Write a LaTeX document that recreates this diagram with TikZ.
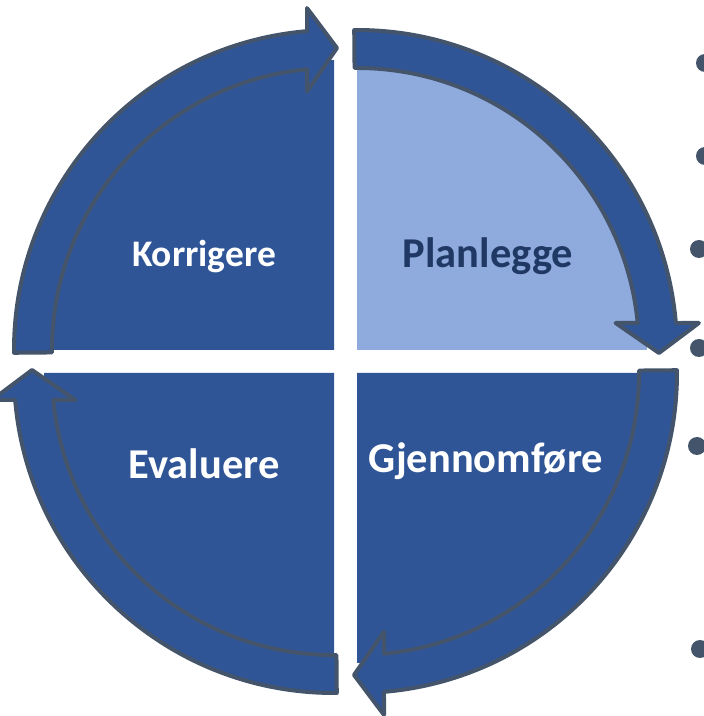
\documentclass[tikz,border=0pt]{standalone}
\usepackage{fontspec}
\setmainfont{Carlito}
\definecolor{darkfill}{HTML}{2F5597}
\definecolor{lightfill}{HTML}{8FAADC}
\definecolor{edgegray}{HTML}{44546A}
\definecolor{navytext}{HTML}{1F3864}
\tikzset{
  arrowstyle/.style={fill=darkfill, draw=edgegray, line width=4pt, line join=round},
  lbl/.style={font=\bfseries\fontsize{42.5}{46}\selectfont, anchor=base, inner sep=0pt},
  smalllbl/.style={font=\bfseries\fontsize{37.5}{42}\selectfont, anchor=base, inner sep=0pt},
  bulletdot/.style={circle, fill=edgegray, minimum size=18pt, inner sep=0pt},
  cyclearrow/.pic={
    \path[arrowstyle] (90.5:320) arc[start angle=90.5, end angle=4.84, radius=320]
      -- (341.9,27) -- (302,-3) -- (258.6,27) -- (280.7,27)
      arc[start angle=5.49, end angle=90.5, radius=282] -- cycle;
  }
}
\begin{document}
\begin{tikzpicture}[x=1pt,y=1pt]
\useasboundingbox (0,0) rectangle (704,716);
% quadrant fills
\fill[darkfill]  (334,366) -- ++(180:290) arc[start angle=180, end angle=90, radius=290] -- cycle;
\fill[lightfill] (357,366) -- ++(90:290) arc[start angle=90, end angle=0, radius=290] -- cycle;
\fill[darkfill]  (357,343) -- ++(0:290) arc[start angle=0, end angle=-90, radius=290] -- cycle;
\fill[darkfill]  (334,343) -- ++(270:290) arc[start angle=270, end angle=180, radius=290] -- cycle;
% circular arrows
\pic[rotate=90] at (334,366) {cyclearrow};
\pic at (357,366) {cyclearrow};
\pic[rotate=-90] at (357,343) {cyclearrow};
\pic[rotate=180] at (334,343) {cyclearrow};
% labels
\node[smalllbl, text=white] (korr) at (204,449) {Korrigere};
\node[lbl, text=navytext] (plan) at (488,448) {Planlegge};
\node[lbl, text=white] (eval) at (204,237) {Evaluere};
\node[lbl, text=white] (gjen) at (486,243) {Gjennomføre};
% bullets
\node[bulletdot] (b1) at (705,653) {};
\node[bulletdot] (b2) at (705,560) {};
\node[bulletdot] (b3) at (699,467) {};
\node[bulletdot] (b4) at (699,368) {};
\node[bulletdot] (b5) at (697,270) {};
\node[bulletdot] (b6) at (700,67) {};
\end{tikzpicture}
\end{document}
